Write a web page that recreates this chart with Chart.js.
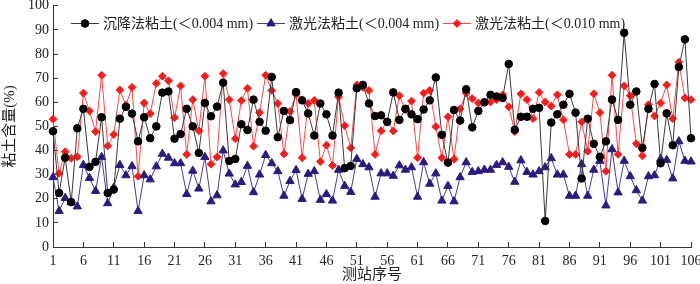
<!DOCTYPE html>
<html>
<head>
<meta charset="utf-8">
<script src="https://cdn.jsdelivr.net/npm/chart.js@4.4.0/dist/chart.umd.min.js"></script>
<style>
  html, body { margin: 0; padding: 0; background: #fff; }
  #wrap { width: 700px; height: 284px; }
</style>
</head>
<body>
<div id="wrap"><canvas id="chart" width="700" height="284"></canvas></div>
<script>
// 测站序号 1..106
const stations = Array.from({ length: 106 }, (_, i) => String(i + 1));

// 沉降法粘土(<0.004 mm)
const settling004 = [
  48.0, 22.4, 37.0, 18.6, 49.2, 57.3, 33.2, 35.3, 53.8, 22.4,
  23.8, 53.2, 58.1, 55.3, 43.8, 53.8, 45.1, 50.0, 64.0, 64.5,
  44.9, 46.8, 57.3, 50.0, 39.0, 59.7, 54.2, 58.2, 68.1, 35.7,
  36.5, 50.9, 48.5, 61.1, 51.9, 48.2, 70.5, 45.5, 56.4, 52.6,
  64.2, 60.8, 55.4, 46.2, 59.5, 55.0, 46.2, 64.0, 32.7, 33.6,
  65.8, 67.2, 59.5, 54.3, 54.6, 51.9, 64.1, 52.7, 57.3, 55.0,
  53.0, 57.0, 60.8, 70.3, 46.5, 35.0, 56.8, 52.4, 65.4, 49.6,
  56.4, 60.0, 63.1, 62.4, 61.8, 75.9, 48.6, 54.0, 54.0, 57.3,
  57.7, 10.8, 51.6, 55.0, 59.0, 63.5, 55.7, 28.4, 53.2, 42.8,
  37.4, 43.8, 61.1, 52.7, 88.8, 59.0, 64.5, 41.1, 57.3, 67.6,
  34.7, 55.4, 42.2, 74.6, 86.1, 45.1
];

// 激光法粘土(<0.004 mm)
const laser004 = [
  28.9, 14.9, 20.3, 18.6, 16.8, 34.0, 28.6, 23.2, 37.3, 18.1,
  24.6, 34.0, 29.7, 33.5, 14.9, 29.7, 28.0, 33.4, 38.6, 37.0,
  34.7, 34.7, 21.9, 31.6, 24.2, 37.3, 18.9, 21.4, 40.0, 30.4,
  25.9, 26.9, 33.6, 22.7, 30.0, 38.1, 34.7, 31.4, 21.2, 27.3,
  31.9, 19.9, 30.3, 31.4, 19.5, 21.9, 19.2, 32.0, 25.3, 22.8,
  36.5, 34.3, 33.0, 20.8, 30.5, 30.5, 29.5, 33.8, 32.0, 33.0,
  20.8, 35.1, 26.2, 30.5, 19.2, 25.3, 18.9, 28.9, 35.1, 31.1,
  31.4, 32.0, 32.0, 34.0, 35.1, 33.2, 27.0, 35.9, 31.1, 30.0,
  31.4, 33.0, 36.8, 30.0, 30.0, 21.2, 21.2, 34.3, 21.2, 32.0,
  35.7, 17.2, 40.5, 22.6, 35.7, 29.3, 23.5, 19.2, 29.3, 29.7,
  36.5, 36.1, 28.4, 43.8, 35.7, 35.4
];

// 激光法粘土(<0.010 mm)
const laser010 = [
  53.0, 30.5, 39.5, 36.8, 37.4, 63.8, 56.4, 47.8, 71.2, 41.9,
  46.6, 65.1, 58.8, 66.2, 29.3, 59.7, 55.3, 67.8, 70.8, 68.9,
  53.6, 66.8, 38.4, 61.1, 48.2, 70.8, 34.3, 37.3, 71.9, 61.1,
  44.9, 60.7, 65.8, 41.8, 55.7, 71.2, 64.9, 59.5, 38.6, 56.2,
  63.2, 37.0, 59.5, 60.8, 35.4, 42.2, 33.8, 62.2, 50.3, 41.1,
  67.2, 66.2, 64.9, 38.4, 48.2, 51.9, 48.1, 62.7, 56.8, 60.5,
  37.0, 63.8, 64.9, 49.9, 37.0, 54.0, 36.4, 57.3, 63.8, 61.5,
  59.7, 60.0, 60.1, 61.1, 63.1, 58.1, 47.8, 63.5, 61.1, 53.2,
  64.1, 60.1, 58.4, 63.1, 52.7, 38.4, 38.4, 51.9, 39.7, 63.5,
  55.7, 31.4, 71.2, 38.4, 66.8, 62.7, 42.8, 37.8, 59.0, 54.3,
  59.7, 67.2, 53.2, 76.6, 61.8, 61.1
];

const FONT = "'Liberation Serif', 'Noto Sans CJK SC', serif";

// 图例：线段 + 标记 + 文字，画在绘图区顶部
const lineLegend = {
  id: "lineLegend",
  afterDraw(chart) {
    const ctx = chart.ctx;
    const y = 23.5;
    const items = [
      { x: 71, ds: 0 },
      { x: 257, ds: 1 },
      { x: 443, ds: 2 },
    ];
    ctx.save();
    items.forEach((it) => {
      const ds = chart.data.datasets[it.ds];
      ctx.strokeStyle = ds.borderColor;
      ctx.lineWidth = 1;
      ctx.beginPath();
      ctx.moveTo(it.x, y);
      ctx.lineTo(it.x + 28, y);
      ctx.stroke();
      ctx.fillStyle = ds.pointBackgroundColor;
      ctx.strokeStyle = ds.pointBorderColor;
      Chart.helpers.drawPoint(ctx, {
        pointStyle: ds.pointStyle,
        radius: ds.pointRadius,
        borderWidth: 1,
        rotation: 0,
      }, it.x + 14, y);
      ctx.fillStyle = "#222";
      ctx.font = "14px " + FONT;
      ctx.textBaseline = "middle";
      ctx.textAlign = "left";
      ctx.fillText(ds.label, it.x + 32, y + 0.5);
    });
    ctx.restore();
  },
};

new Chart(document.getElementById("chart"), {
  type: "line",
  data: {
    labels: stations,
    datasets: [
      {
        label: "沉降法粘土(＜0.004 mm)",
        data: settling004,
        borderColor: "#3a3a3a",
        borderWidth: 1,
        pointStyle: "circle",
        pointRadius: 3.8,
        pointBackgroundColor: "#000",
        pointBorderColor: "#000",
        pointBorderWidth: 1,
        tension: 0,
      },
      {
        label: "激光法粘土(＜0.004 mm)",
        data: laser004,
        borderColor: "#4a3a9c",
        borderWidth: 1,
        pointStyle: "triangle",
        pointRadius: 4.8,
        pointBackgroundColor: "#2c1a80",
        pointBorderColor: "#2c1a80",
        pointBorderWidth: 1,
        tension: 0,
      },
      {
        label: "激光法粘土(＜0.010 mm)",
        data: laser010,
        borderColor: "#ff4a4a",
        borderWidth: 1,
        pointStyle: "rectRot",
        pointRadius: 3.9,
        pointBackgroundColor: "#ff1a1a",
        pointBorderColor: "#ff1a1a",
        pointBorderWidth: 1,
        tension: 0,
      },
    ],
  },
  options: {
    responsive: false,
    animation: false,
    devicePixelRatio: 1,
    layout: { padding: { top: 3, right: 9, left: 0, bottom: 0 } },
    plugins: {
      legend: { display: false },
      tooltip: { enabled: false },
    },
    scales: {
      x: {
        type: "category",
        offset: false,
        grid: { drawOnChartArea: false, drawTicks: true, tickLength: -5, color: "#333" },
        border: { display: true, color: "#333", width: 1 },
        ticks: {
          autoSkip: false,
          maxRotation: 0,
          padding: 11,
          color: "#222",
          font: { family: FONT, size: 14 },
          callback: function (value, index) {
            return index % 5 === 0 ? this.getLabelForValue(value) : null;
          },
        },
        title: {
          display: true,
          text: "测站序号",
          color: "#222",
          font: { family: FONT, size: 15 },
          padding: { top: 0, bottom: 0 },
        },
        afterFit(scale) {
          scale.height = 37;
          scale.paddingLeft = 0;
          scale.paddingRight = 0;
        },
      },
      y: {
        min: 0,
        max: 100,
        grid: { drawOnChartArea: false, drawTicks: true, tickLength: -5, color: "#333" },
        border: { display: true, color: "#333", width: 1 },
        ticks: {
          stepSize: 10,
          padding: 9,
          color: "#222",
          font: { family: FONT, size: 14 },
        },
        title: {
          display: true,
          text: "粘土含量(%)",
          color: "#222",
          font: { family: FONT, size: 15 },
          padding: { top: 1, bottom: 0 },
        },
        afterFit(scale) {
          scale.width = 53;
          scale.paddingTop = 0;
          scale.paddingBottom = 0;
        },
      },
    },
  },
  plugins: [lineLegend],
});
</script>
</body>
</html>
